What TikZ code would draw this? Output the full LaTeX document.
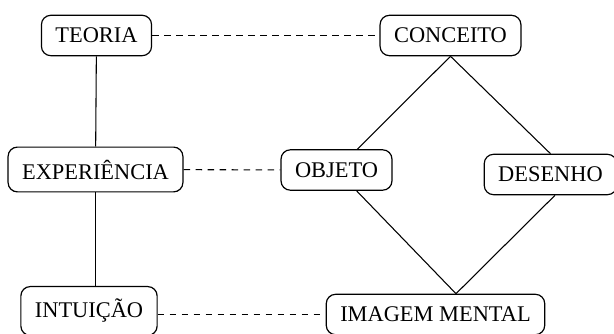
\documentclass[tikz,border=0pt]{standalone}
\usepackage{fontspec}
\setmainfont{Liberation Serif}
\usetikzlibrary{calc}
\tikzset{
	begriff/.style={draw, line width=0.9pt, rounded corners=7pt, inner xsep=10.5pt,
	inner ysep=9.5pt, font=\fontsize{16.8}{20}\selectfont},
	linie/.style={line width=0.8pt},
	strich/.style={line width=0.8pt, dash pattern=on 5pt off 4pt}
}
\begin{document}
\begin{tikzpicture}[x=0.75pt, y=-0.75pt]
	\useasboundingbox (0, 0) rectangle (614, 334);
	% Begriffe links
	\node[begriff] (teoria) at (96.5, 35.5) {TEORIA};
	\node[begriff] (experiencia) at (95.5, 169.5) {EXPERIÊNCIA};
	\node[begriff] (intuicao) at (89, 311) {INTUIÇÃO};
	% Begriffe rechts
	\node[begriff] (conceito) at (450.5, 35.5) {CONCEITO};
	\node[begriff] (objeto) at (336.5, 170) {OBJETO};
	\node[begriff] (desenho) at (550.5, 174.5) {DESENHO};
	\node[begriff] (imagem) at (435.5, 314.5) {IMAGEM MENTAL};
	% Hilfspunkte
	\coordinate (spitze) at ($(imagem.north) + (20.5, 0)$);
	\coordinate (dfuss) at ($(desenho.south) + (4.5, 0)$);
	% durchgezogene Linien
	\draw[linie] (teoria) -- (experiencia);
	\draw[linie] (experiencia.south) -- (experiencia.south |- intuicao.north);
	\draw[linie] (conceito.south) -- (objeto);
	\draw[linie] (conceito.south) -- (desenho.north);
	\draw[linie] (objeto) -- (spitze);
	\draw[linie] (dfuss) -- (spitze);
	% gestrichelte Linien
	\draw[strich] (teoria) -- (conceito);
	\draw[strich] (experiencia) -- (objeto);
	\draw[strich] (intuicao.east |- imagem.west) -- (imagem.west);
\end{tikzpicture}
\end{document}
